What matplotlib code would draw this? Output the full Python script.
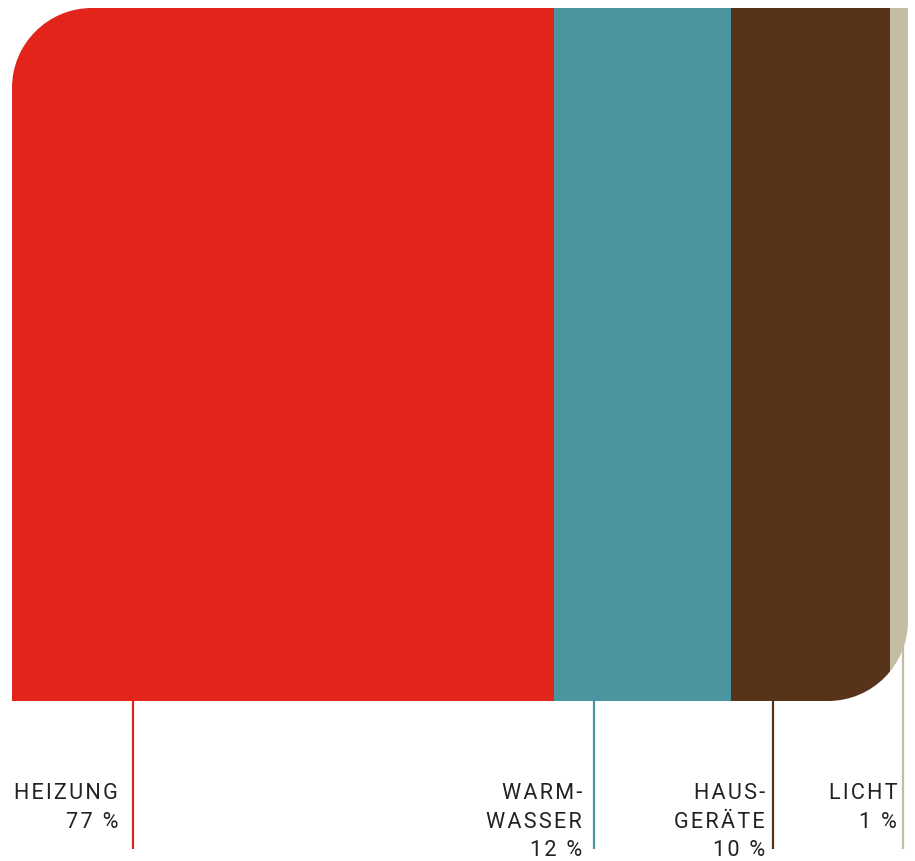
import matplotlib.pyplot as plt
from matplotlib.path import Path
from matplotlib.patches import PathPatch
import matplotlib.transforms as mtransforms

# data
categories = ['HEIZUNG', 'WARMWASSER', 'HAUSGERÄTE', 'LICHT']
label_lines = [['HEIZUNG'], ['WARM-', 'WASSER'], ['HAUS-', 'GERÄTE'], ['LICHT']]
shares = [77, 12, 10, 1]
# drawn widths as they appear in the picture (percent of bar length)
bar_widths = [60.5, 19.8, 17.7, 2.0]
colors = ['#E2241A', '#4A96A0', '#57331A', '#C4BDA4']

# layout (pixels)
W_FIG, H_FIG = 915, 861
BAR_L, BAR_R, BAR_T, BAR_B = 12, 908, 8, 701
RADIUS = 80
leader_px = [133, 594, 773, 903]
text_right_px = [118, 582, 765, 897]
LEADER_END = 849
BASELINES = [799, 828, 856]

plt.rcParams['font.family'] = ['Roboto', 'DejaVu Sans']

fig = plt.figure(figsize=(W_FIG / 100, H_FIG / 100), dpi=100)
bw, bh = BAR_R - BAR_L, BAR_B - BAR_T
ax = fig.add_axes([BAR_L / W_FIG, (H_FIG - BAR_B) / H_FIG, bw / W_FIG, bh / H_FIG])
ax.set_xlim(0, 100)
ax.set_ylim(0, 1)
ax.axis('off')

lefts = [sum(bar_widths[:i]) for i in range(len(bar_widths))]
bars = ax.barh(0.5, bar_widths, left=lefts, height=1, color=colors,
               linewidth=0, zorder=2)

# rounded top-left and bottom-right corners (pixel units -> axes)
k = 0.5523 * RADIUS
r = RADIUS
verts = [(0, 0), (bw - r, 0),
         (bw - r + k, 0), (bw, r - k), (bw, r),
         (bw, bh), (r, bh),
         (r - k, bh), (0, bh - r + k), (0, bh - r),
         (0, 0)]
codes = [Path.MOVETO, Path.LINETO,
         Path.CURVE4, Path.CURVE4, Path.CURVE4,
         Path.LINETO, Path.LINETO,
         Path.CURVE4, Path.CURVE4, Path.CURVE4,
         Path.CLOSEPOLY]
clip_tr = mtransforms.Affine2D().scale(1 / bw, 1 / bh) + ax.transAxes
clip = PathPatch(Path(verts, codes), transform=clip_tr, facecolor='none',
                 edgecolor='none')
ax.add_patch(clip)
for b in bars:
    b.set_clip_path(clip)

# leader lines and labels
y_end = -(LEADER_END - BAR_B) / bh
def spaced(s):
    return '\u200a'.join(s)

def px2x(p):
    return (p - BAR_L) / bw * 100

for i, cat in enumerate(categories):
    lx = px2x(leader_px[i])
    ax.plot([lx, lx], [0.5, y_end], color=colors[i],
            lw=1.6, zorder=1, clip_on=False, solid_capstyle='butt')
    lines = label_lines[i] + ['%d %%' % shares[i]]
    for j, ln in enumerate(lines):
        y = -(BASELINES[j] - BAR_B) / bh
        ax.text(px2x(text_right_px[i]), y, spaced(ln), ha='right', va='baseline',
                fontsize=15.6, color='#222222', clip_on=False)

fig.savefig('out.png', dpi=100)
